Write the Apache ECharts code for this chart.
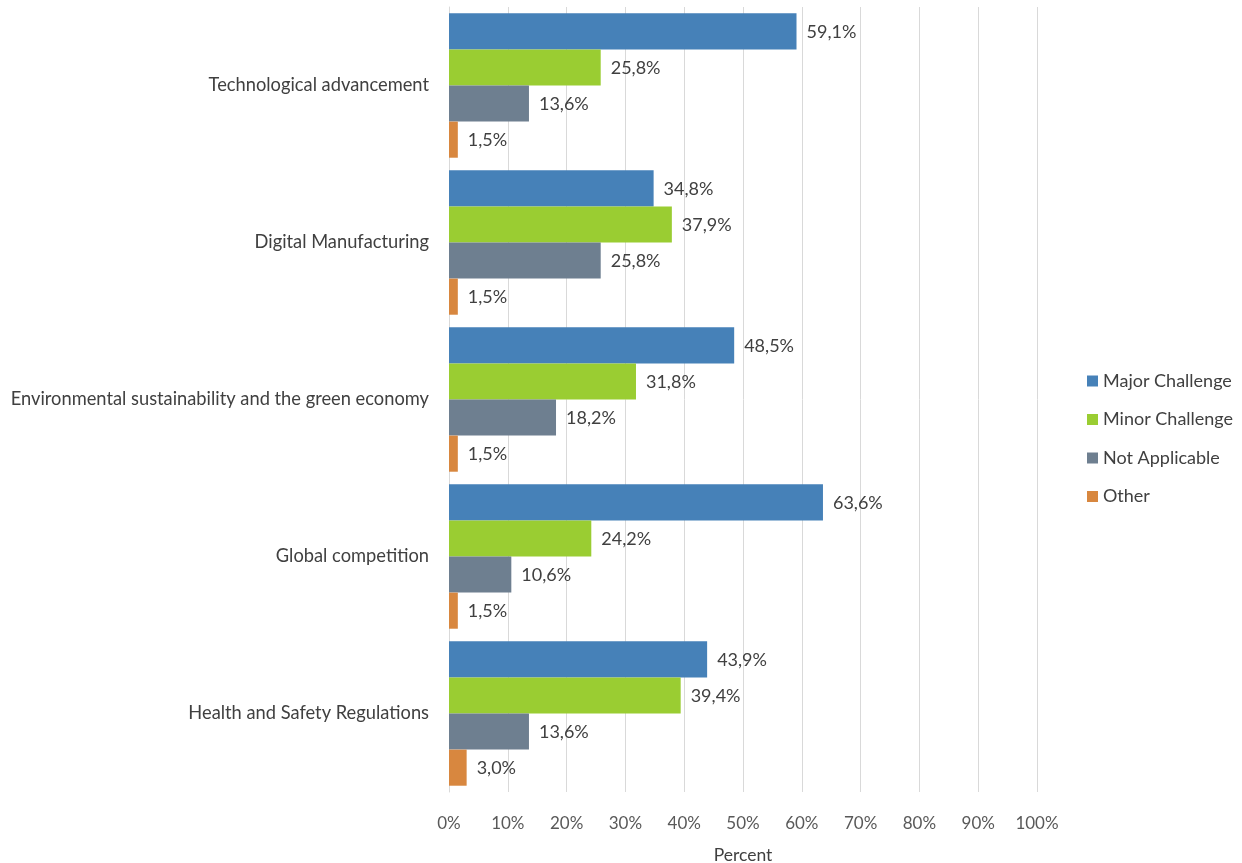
<!DOCTYPE html>
<html><head><meta charset="utf-8">
<script src="https://cdn.jsdelivr.net/npm/echarts@6/dist/echarts.min.js"></script>
<style>html,body{margin:0;padding:0;background:#fff}#c{width:1242px;height:863px}</style>
</head><body><div id="c"></div>
<script>
const categories = ["Technological advancement","Digital Manufacturing","Environmental sustainability and the green economy","Global competition","Health and Safety Regulations"];
const seriesNames = ["Major Challenge","Minor Challenge","Not Applicable","Other"];
const majorChallenge = [59.1, 34.8, 48.5, 63.6, 43.9];
const minorChallenge = [25.8, 37.9, 31.8, 24.2, 39.4];
const notApplicable = [13.6, 25.8, 18.2, 10.6, 13.6];
const other = [1.5, 1.5, 1.5, 1.5, 3.0];
const xTicks = [0,10,20,30,40,50,60,70,80,90,100];
const colors = ["#4681B8","#9ACD32","#6E7F90","#D8873F"];
const values = [majorChallenge, minorChallenge, notApplicable, other];
const FONT = "Lato";
const chart = echarts.init(document.getElementById('c'));
chart.setOption({
  animation:false,
  textStyle:{fontFamily:FONT},
  grid:{left:449,right:205,top:7,bottom:71,containLabel:false,outerBoundsMode:'none'},
  legend:{
    orient:'vertical', left:1082, top:367, itemWidth:11, itemHeight:11, itemGap:20.5,
    icon:'rect',
    textStyle:{fontSize:18,color:'#404040',fontFamily:FONT},
    data:seriesNames
  },
  xAxis:{
    type:'value', min:0, max:100, interval:10,
    name:'Percent', nameLocation:'middle', nameGap:54,
    nameTextStyle:{fontSize:17.5,color:'#404040',fontFamily:FONT},
    axisLabel:{fontSize:17,color:'#595959',margin:23,formatter:v=>xTicks.includes(v)?v+'%':''},
    splitLine:{show:true,lineStyle:{color:'#D9D9D9',width:1}},
    axisLine:{show:false}, axisTick:{show:false}
  },
  yAxis:{
    type:'category', data:categories, inverse:true,
    axisLabel:{fontSize:18.3,color:'#404040',margin:20},
    axisLine:{show:true,lineStyle:{color:'#D9D9D9'}}, axisTick:{show:false}
  },
  series: seriesNames.map((n,i)=>({
    name:n, type:'bar', data:values[i], barGap:'0%', barCategoryGap:'8%',
    itemStyle:{color:colors[i]},
    label:{show:true,position:'right',distance:10,offset:[0,1],fontSize:18,color:'#404040',fontFamily:FONT,
      formatter:p=>p.value.toFixed(1).replace('.',',')+'%'}
  }))
});
</script></body></html>
